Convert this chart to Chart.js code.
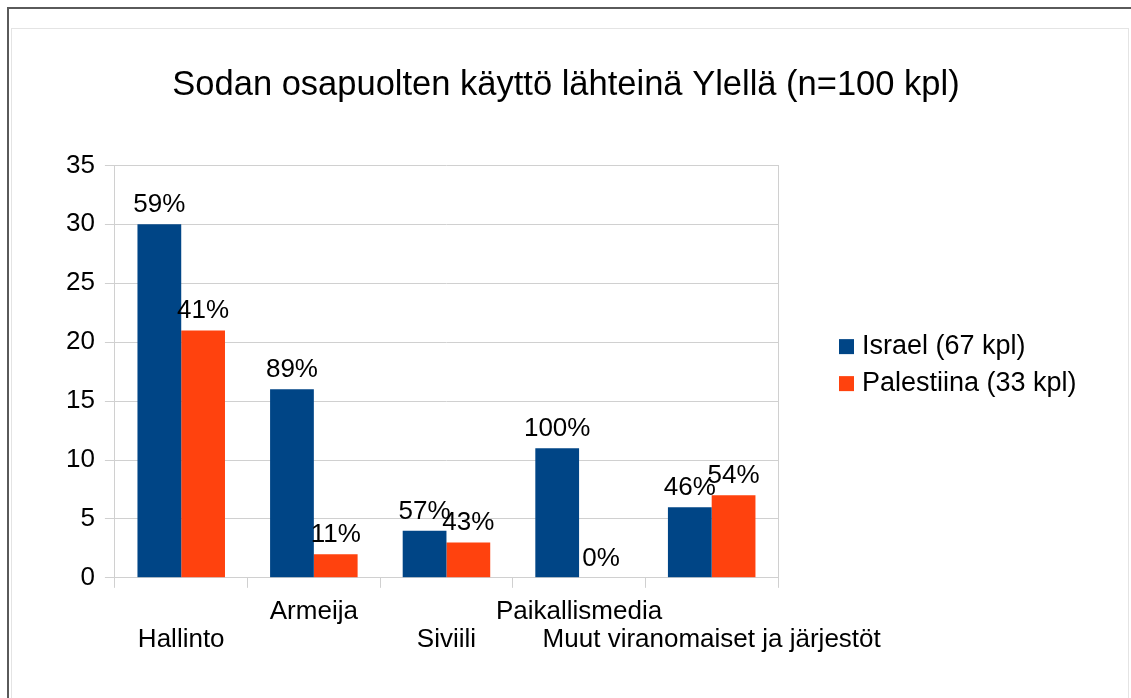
<!DOCTYPE html>
<html lang="fi">
<head>
<meta charset="utf-8">
<title>Sodan osapuolten käyttö lähteinä Ylellä</title>
<script src="https://cdn.jsdelivr.net/npm/chart.js@4/dist/chart.umd.min.js"></script>
<style>
  html, body { margin: 0; padding: 0; background: #fff; overflow: hidden; }
  #frame { position: absolute; left: 7px; top: 7px; width: 1200px; height: 800px;
           border-top: 2px solid #5a5a5a; border-left: 2px solid #5a5a5a; }
  #sheet { position: absolute; left: 11px; top: 28px; width: 1116px; height: 700px;
           border: 1px solid #e4e4e4; }
  #wrap { position: absolute; left: 12px; top: 29px; width: 1115px; height: 669px; }
</style>
</head>
<body>
<div id="frame"></div>
<div id="sheet"></div>
<div id="wrap"><canvas id="chart"></canvas></div>
<script>
// luokat ja sarjat
const categories = ['Hallinto', 'Armeija', 'Siviili', 'Paikallismedia', 'Muut viranomaiset ja järjestöt'];
const seriesNames = ['Israel (67 kpl)', 'Palestiina (33 kpl)'];
const israelValues = [30, 16, 4, 11, 6];
const palestiinaValues = [21, 2, 3, 0, 7];
const israelShares = ['59%', '89%', '57%', '100%', '46%'];
const palestiinaShares = ['41%', '11%', '43%', '0%', '54%'];
const yTicks = [0, 5, 10, 15, 20, 25, 30, 35];

const FONT = '"Liberation Sans", Arial, sans-serif';
const GRID = '#d0d0d0';

// joka toinen nimi ylemmälle riville, joka toinen alemmalle
const staggered = categories.map((c, i) => i % 2 === 1 ? [c, ''] : ['', c]);

// prosentit pylväiden päälle
const shareLabels = {
  id: 'shareLabels',
  afterDatasetsDraw(chart) {
    const ctx = chart.ctx;
    ctx.save();
    ctx.font = '26px ' + FONT;
    ctx.fillStyle = '#000';
    ctx.textAlign = 'center';
    ctx.textBaseline = 'alphabetic';
    chart.data.datasets.forEach((ds, i) => {
      chart.getDatasetMeta(i).data.forEach((bar, j) => {
        ctx.fillText(ds.shares[j], bar.x, bar.y - 12);
      });
    });
    ctx.restore();
  }
};

// selite oikealle, kaavioalueen viereen
const sideLegend = {
  id: 'sideLegend',
  afterDraw(chart) {
    const ctx = chart.ctx;
    const area = chart.chartArea;
    const x = area.right + 61;
    const y0 = (area.top + area.bottom) / 2 - 25;
    ctx.save();
    ctx.font = '27px ' + FONT;
    ctx.textAlign = 'left';
    ctx.textBaseline = 'alphabetic';
    chart.data.datasets.forEach((ds, i) => {
      const y = y0 + i * 37;
      ctx.fillStyle = ds.backgroundColor;
      ctx.fillRect(x, y - 7.5, 15, 15);
      ctx.fillStyle = '#000';
      ctx.fillText(ds.label, x + 23, y + 7);
    });
    ctx.restore();
  }
};

new Chart(document.getElementById('chart'), {
  type: 'bar',
  data: {
    labels: staggered,
    datasets: [
      { label: seriesNames[0], data: israelValues, shares: israelShares, backgroundColor: '#004586' },
      { label: seriesNames[1], data: palestiinaValues, shares: palestiinaShares, backgroundColor: '#ff420e' }
    ]
  },
  options: {
    responsive: true,
    maintainAspectRatio: false,
    animation: false,
    datasets: { bar: { categoryPercentage: 0.66, barPercentage: 1 } },
    layout: { padding: { left: 44, right: 51, top: 14, bottom: 34 } },
    plugins: {
      title: {
        display: true,
        text: 'Sodan osapuolten käyttö lähteinä Ylellä (n=100 kpl)',
        color: '#000',
        font: { family: FONT, size: 34.5, weight: 'normal', lineHeight: 1.2 },
        padding: { top: 22, bottom: 59 }
      },
      legend: { display: false },
      tooltip: { enabled: false }
    },
    scales: {
      x: {
        grid: { offset: true, drawOnChartArea: false, color: GRID, tickLength: 10 },
        border: { color: GRID },
        ticks: { color: '#000', font: { family: FONT, size: 26, lineHeight: 1.08 }, padding: 10, maxRotation: 0, autoSkip: false }
      },
      y: {
        min: 0,
        max: 35,
        afterBuildTicks: s => { s.ticks = yTicks.map(v => ({ value: v })); },
        grid: { color: GRID, tickLength: 10 },
        border: { color: GRID },
        ticks: { color: '#000', font: { family: FONT, size: 26 }, padding: 10 }
      },
      edge: {
        position: 'right',
        grid: { display: false },
        border: { display: true, color: GRID },
        ticks: { display: false },
        afterFit: s => { s.width = 298; }
      }
    }
  },
  plugins: [shareLabels, sideLegend]
});
</script>
</body>
</html>
